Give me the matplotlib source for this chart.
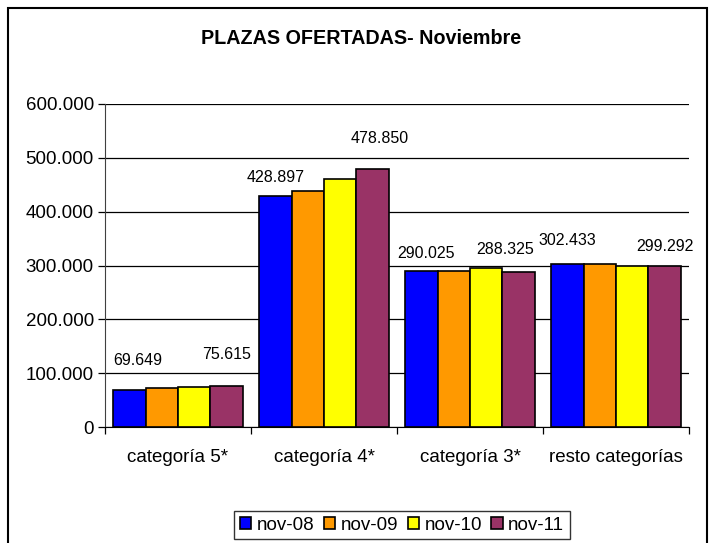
import numpy as np
import matplotlib.pyplot as plt
from matplotlib.patches import Rectangle
from matplotlib.ticker import FuncFormatter, FixedLocator

plt.rcParams['font.family'] = ['Liberation Sans', 'DejaVu Sans']

# Data
categories = ['categoría 5*', 'categoría 4*', 'categoría 3*', 'resto categorías']
series = ['nov-08', 'nov-09', 'nov-10', 'nov-11']
nov08 = [69649, 428897, 290025, 302433]
nov09 = [72800, 438000, 289500, 302000]
nov10 = [75000, 460000, 296000, 298500]
nov11 = [75615, 478850, 288325, 299292]
values = [nov08, nov09, nov10, nov11]

colors = ['#0000FF', '#FF9900', '#FFFF00', '#993366']

# label offsets (px) for first / last series in each group
first_offsets = [(8, 22), (0, 11), (5, 10), (0, 16)]
last_offsets = [(0, 24), (7, 23), (-14, 15), (0, 12)]


def fmt(v, pos=None):
    return f'{int(round(v)):,}'.replace(',', '.')


fig = plt.figure(figsize=(7.13, 5.43), dpi=100)
ax = fig.add_axes([105 / 713, 1 - 427 / 543, (689 - 105) / 713, (427 - 104) / 543])

x = np.arange(len(categories))
width = 0.2225
for i, (name, vals) in enumerate(zip(series, values)):
    pos = x + (i - 1.5) * width
    bars = ax.bar(pos, vals, width, color=colors[i], edgecolor='black',
                  linewidth=1.2, label=name, zorder=3)
    if i == 0 or i == len(series) - 1:
        offs = first_offsets if i == 0 else last_offsets
        for b, v, (dx, dy) in zip(bars, vals, offs):
            ax.annotate(fmt(v), (b.get_x() + b.get_width() / 2, v),
                        xytext=(dx * 0.72, dy * 0.72), textcoords='offset points',
                        ha='center', va='bottom', fontsize=11.5)

ax.set_xlim(-0.5, 3.5)
ax.set_ylim(0, 600000)
ax.set_yticks(np.arange(0, 600001, 100000))
ax.yaxis.set_major_formatter(FuncFormatter(fmt))
ax.yaxis.grid(True, color='black', linewidth=0.9, zorder=0)
ax.tick_params(axis='y', direction='out', length=5, width=0.9, labelsize=13.5, pad=3)

ax.set_xticks(x)
ax.set_xticklabels(categories, fontsize=13.5)
ax.tick_params(axis='x', which='major', length=0, pad=16)
ax.xaxis.set_minor_locator(FixedLocator([-0.5, 0.5, 1.5, 2.5, 3.5]))
ax.tick_params(axis='x', which='minor', direction='out', length=5, width=0.9)

for s in ['top', 'right']:
    ax.spines[s].set_visible(False)
ax.spines['left'].set_color('#404040')
ax.spines['bottom'].set_color('black')

fig.text(0.506, 0.930, 'PLAZAS OFERTADAS- Noviembre', ha='center', va='center',
         fontsize=14.2, fontweight='bold')

leg = fig.legend(loc='center', bbox_to_anchor=(402 / 713, 1 - 525 / 543), ncol=4,
                 fontsize=13.5, frameon=True, fancybox=False, edgecolor='black',
                 handlelength=0.6, handleheight=0.6, handletextpad=0.3,
                 columnspacing=0.5, borderpad=0.3)
leg.get_frame().set_linewidth(1.0)

# outer border
fig.patches.append(Rectangle((8 / 713, -0.05), (707 - 8) / 713, 1.05 - 8 / 543,
                             transform=fig.transFigure, fill=False,
                             edgecolor='black', linewidth=1.5))

plt.savefig('out.png', dpi=100)
